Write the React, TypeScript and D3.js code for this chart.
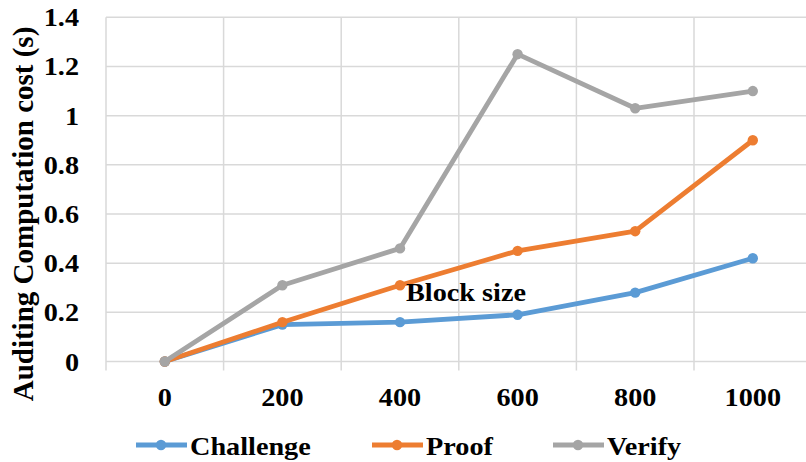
import React from "react";
import * as d3 from "d3";

const categories = ["0", "200", "400", "600", "800", "1000"];
const challenge = [0, 0.15, 0.16, 0.19, 0.28, 0.42];
const proof = [0, 0.16, 0.31, 0.45, 0.53, 0.9];
const verify = [0, 0.31, 0.46, 1.25, 1.03, 1.1];
const yTicks = [0, 0.2, 0.4, 0.6, 0.8, 1, 1.2, 1.4];
const seriesNames = ["Challenge", "Proof", "Verify"];
const seriesColors = ["#5B9BD5", "#ED7D31", "#A5A5A5"];
const xTitle = "Block size";
const yTitle = "Auditing Computation cost (s)";

const W = 806;
const H = 462;
const FONT = "'Liberation Serif', 'Times New Roman', serif";
const SX = 1.13;

function T({ x, y, anchor = "start", size = 25, children }: any) {
  return (
    <text
      transform={`translate(${x},${y}) scale(${SX},1)`}
      textAnchor={anchor}
      fontFamily={FONT}
      fontWeight="bold"
      fontSize={size}
      fill="#000"
    >
      {children}
    </text>
  );
}

export default function App() {
  const x = d3.scaleBand<string>().domain(categories).range([106, 106 + 6 * 117.6]);
  const y = d3.scaleLinear().domain([0, 1.4]).range([361.5, 17.3]);
  const series = [challenge, proof, verify];
  const line = d3
    .line<number>()
    .x((_, i) => (x(categories[i]) as number) + x.bandwidth() / 2)
    .y((d) => y(d));
  const grid = "#D9D9D9";
  const legendX = [136, 372, 553];

  return (
    <svg
      width={W}
      height={H}
      style={{ position: "absolute", left: 0, top: 0, background: "#fff" }}
    >
      <rect width={W} height={H} fill="#fff" />
      {yTicks.map((t) => (
        <line key={"h" + t} x1={106} x2={W} y1={y(t)} y2={y(t)} stroke={grid} strokeWidth={1.5} />
      ))}
      {d3.range(0, 7).map((i) => {
        const xx = 106 + i * x.bandwidth();
        return (
          <line key={"v" + i} x1={xx} x2={xx} y1={y(1.4)} y2={y(0) + 9} stroke={grid} strokeWidth={1.5} />
        );
      })}
      {yTicks.map((t) => (
        <T key={"yl" + t} x={79} y={y(t) + 9} anchor="end">
          {d3.format("~g")(t)}
        </T>
      ))}
      {categories.map((c) => (
        <T key={"xl" + c} x={(x(c) as number) + x.bandwidth() / 2} y={406} anchor="middle">
          {c}
        </T>
      ))}
      {series.map((s, si) => (
        <g key={"s" + si}>
          <path d={line(s) as string} fill="none" stroke={seriesColors[si]} strokeWidth={4.8} strokeLinejoin="round" />
          {s.map((v, i) => (
            <circle
              key={i}
              cx={(x(categories[i]) as number) + x.bandwidth() / 2}
              cy={y(v)}
              r={5.2}
              fill={seriesColors[si]}
            />
          ))}
        </g>
      ))}
      <T x={466} y={301} anchor="middle">
        {xTitle}
      </T>
      <text
        transform={`translate(33,214) rotate(-90)`}
        textAnchor="middle"
        fontFamily={FONT}
        fontWeight="bold"
        fontSize={29}
        fill="#000"
      >
        {yTitle}
      </text>
      {seriesNames.map((n, i) => (
        <g key={"lg" + i}>
          <line x1={legendX[i]} x2={legendX[i] + 51} y1={445} y2={445} stroke={seriesColors[i]} strokeWidth={4.8} />
          <circle cx={legendX[i] + 25} cy={445} r={5.2} fill={seriesColors[i]} />
          <T x={legendX[i] + 54} y={455}>
            {n}
          </T>
        </g>
      ))}
    </svg>
  );
}
